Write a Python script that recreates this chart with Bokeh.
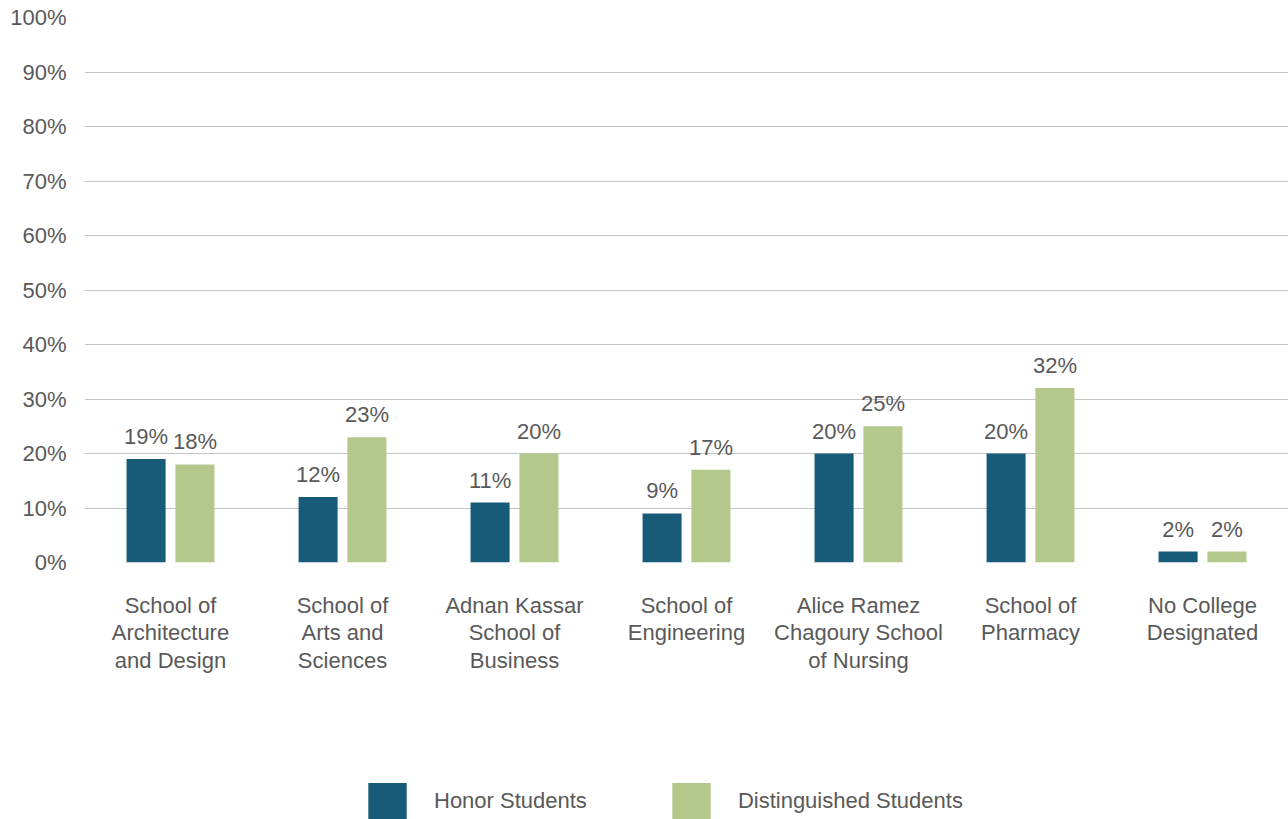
from bokeh.plotting import figure
from bokeh.layouts import column
from bokeh.models import FactorRange, FixedTicker, Legend, LegendItem, ColumnDataSource
from bokeh.transform import dodge
from bokeh.core.properties import value
from bokeh.embed import file_html
from bokeh.resources import INLINE

categories = ["School of\nArchitecture\nand Design", "School of\nArts and\nSciences",
              "Adnan Kassar\nSchool of\nBusiness", "School of\nEngineering",
              "Alice Ramez\nChagoury School\nof Nursing", "School of\nPharmacy",
              "No College\nDesignated"]
honor = [19, 12, 11, 9, 20, 20, 2]
distinguished = [18, 23, 20, 17, 25, 32, 2]
series_names = ["Honor Students", "Distinguished Students"]
y_ticks = list(range(0, 101, 10))

BLUE = "#175b79"
GREEN = "#b5c88c"
GRAY = "#595959"
FONT = "Liberation Sans"
FS = "22px"

src = ColumnDataSource(dict(
    cat=categories, honor=honor, dist=distinguished,
    honor_lbl=[f"{v}%" for v in honor], dist_lbl=[f"{v}%" for v in distinguished],
))

TOTAL_W = 1288
TOTAL_H = 819
MAIN_H = 767
p = figure(x_range=FactorRange(*categories), y_range=(0, 100),
           width=TOTAL_W, height=MAIN_H, output_backend="svg", toolbar_location=None,
           min_border_left=84, min_border_right=0, min_border_top=17,
           min_border_bottom=MAIN_H - 562)
p.outline_line_color = None

W = 0.227
OFF = 0.142
r1 = p.vbar(x=dodge("cat", -OFF, range=p.x_range), top="honor", width=W, source=src,
            fill_color=BLUE, line_color=None)
r2 = p.vbar(x=dodge("cat", OFF, range=p.x_range), top="dist", width=W, source=src,
            fill_color=GREEN, line_color=None)

for col, top, off in (("honor_lbl", "honor", -OFF), ("dist_lbl", "dist", OFF)):
    p.text(x=dodge("cat", off, range=p.x_range), y=top, text=col, source=src,
           text_align="center", text_baseline="bottom", y_offset=-10,
           text_font=value(FONT), text_font_size=FS, text_color=GRAY)

p.xgrid.grid_line_color = None
p.ygrid.ticker = FixedTicker(ticks=y_ticks)
p.ygrid.grid_line_color = "#c4c4c4"
p.ygrid.grid_line_width = 1

p.yaxis.ticker = FixedTicker(ticks=y_ticks)
p.yaxis.major_label_overrides = {t: f"{t}%" for t in y_ticks}
p.yaxis.axis_line_color = None
p.yaxis.major_tick_line_color = None
p.yaxis.major_tick_out = 0
p.yaxis.minor_tick_line_color = None
p.yaxis.minor_tick_out = 0
p.yaxis.major_label_standoff = 18
p.yaxis.major_label_text_font = FONT
p.yaxis.major_label_text_font_size = FS
p.yaxis.major_label_text_color = GRAY

p.xaxis.axis_line_color = None
p.xaxis.major_tick_line_color = None
p.xaxis.major_tick_out = 0
p.xaxis.minor_tick_line_color = None
p.xaxis.minor_tick_out = 0
p.xaxis.major_label_standoff = 30
p.xaxis.major_label_text_font = FONT
p.xaxis.major_label_text_font_size = FS
p.xaxis.major_label_text_color = GRAY
p.xaxis.major_label_text_line_height = 1.1

# legend in its own strip below the chart (proxy glyphs have zero height)
lg = figure(width=TOTAL_W, height=TOTAL_H - MAIN_H, output_backend="svg",
            toolbar_location=None, x_range=(0, 1), y_range=(0, 1), min_border=0,
            x_axis_type=None, y_axis_type=None)
lg.grid.visible = False
lg.outline_line_color = None
e1 = lg.vbar(x=[0.5], top=[0], bottom=[0], width=0.01, fill_color=BLUE, line_color=None)
e2 = lg.vbar(x=[0.5], top=[0], bottom=[0], width=0.01, fill_color=GREEN, line_color=None)
legend = Legend(items=[LegendItem(label=series_names[0], renderers=[e1]),
                       LegendItem(label=series_names[1], renderers=[e2])],
                orientation="horizontal", glyph_width=48, glyph_height=45,
                label_standoff=23, spacing=80, padding=0, margin=0,
                border_line_color=None, background_fill_alpha=0,
                label_text_font=FONT, label_text_font_size=FS,
                label_text_color=GRAY, location=(279, -4))
lg.add_layout(legend)

layout = column(p, lg, spacing=0)
open("out.html", "w").write(file_html(layout, INLINE))
